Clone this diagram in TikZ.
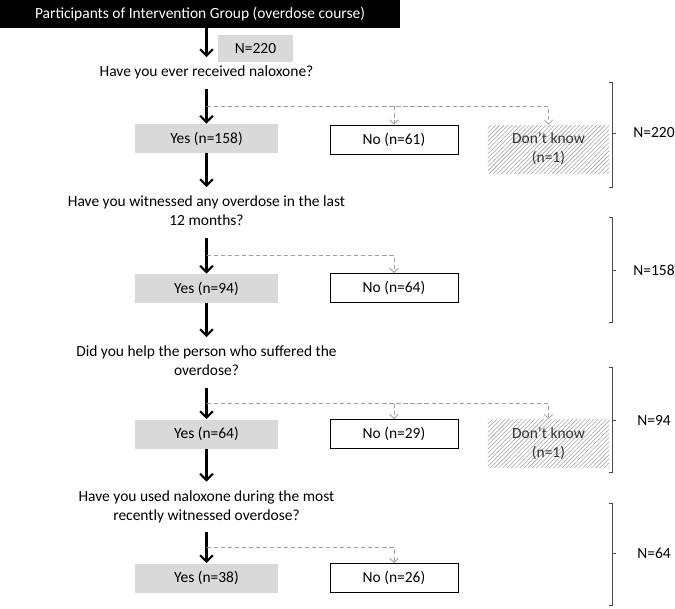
\documentclass[tikz,border=0pt]{standalone}
\usepackage{fontspec}
\setmainfont{Carlito}
\usetikzlibrary{arrows.meta,patterns,calc}
\definecolor{boxgrey}{rgb}{0.85,0.85,0.85}
\definecolor{dashgrey}{rgb}{0.62,0.62,0.62}
\definecolor{bracegrey}{rgb}{0.3,0.3,0.3}

\begin{document}
\begin{tikzpicture}
  [x=0.025cm,y=-0.025cm,font=\fontsize{11}{13.5}\selectfont,
   yesbox/.style={fill=boxgrey,minimum width=3.575cm,minimum height=0.725cm,inner sep=0pt},
   nobox/.style={draw=black,line width=0.6pt,minimum width=3.2cm,minimum height=0.725cm,inner sep=0pt},
   dkbox/.style={pattern=north east lines,pattern color=black!35,minimum width=3.025cm,minimum height=1.2cm,align=center,inner sep=0pt,text=black!80},
   qtext/.style={align=center,inner xsep=0pt,inner ysep=4.3pt},
   main/.style={line width=1.6pt,-{Straight Barb[length=4.5pt,width=9pt]}},
   side/.style={dashgrey,line width=0.6pt,dash pattern=on 3pt off 2pt,-{Straight Barb[length=3pt,width=6pt]}},
   brace/.style={bracegrey,line width=0.6pt}]

  \useasboundingbox (0,0) rectangle (675,608);

  \node[fill=black,text=white,minimum width=10cm,minimum height=0.7cm,inner sep=0pt] (title) at (200,14) {Participants of Intervention Group (overdose course)};
  \node[fill=boxgrey,minimum width=1.875cm,minimum height=0.675cm,inner sep=0pt] (n0) at (255.5,48.5) {N=220};

  \node[qtext] (q1) at (206.5,73) {\strut Have you ever received naloxone?};
  \node[yesbox] (yes1) at (206.5,138.5) {Yes (n=158)};
  \node[nobox] (no1) at (394,139.5) {No (n=61)};
  \node[dkbox] (dk1) at (548.5,149) {Don’t know\\(n=1)};

  \node[qtext] (q2) at (206.5,212.5) {\strut Have you witnessed any overdose in the last\\\strut 12 months?};
  \node[yesbox] (yes2) at (206.5,288.5) {Yes (n=94)};
  \node[nobox] (no2) at (394,288) {No (n=64)};

  \node[qtext] (q3) at (206.5,362.5) {\strut Did you help the person who suffered the\\\strut overdose?};
  \node[yesbox] (yes3) at (206.5,434) {Yes (n=64)};
  \node[nobox] (no3) at (394,434) {No (n=29)};
  \node[dkbox] (dk3) at (548.5,443.5) {Don’t know\\(n=1)};

  \node[qtext] (q4) at (206.5,507) {\strut Have you used naloxone during the most\\\strut recently witnessed overdose?};
  \node[yesbox] (yes4) at (206.5,578) {Yes (n=38)};
  \node[nobox] (no4) at (394,578) {No (n=26)};

  % main path
  \draw[main] (title.south -| q1.north) -- (q1.north);
  \foreach \from/\to in {q1/yes1,yes1/q2,q2/yes2,yes2/q3,q3/yes3,yes3/q4,q4/yes4}
    \draw[main] (\from) -- (\to);

  % side branches
  \coordinate (b1) at ($(q1.south)!0.5!(yes1.north)$);
  \coordinate (b2) at ($(q2.south)!0.5!(yes2.north)$);
  \coordinate (b3) at ($(q3.south)!0.5!(yes3.north)$);
  \coordinate (b4) at ($(q4.south)!0.5!(yes4.north)$);
  \draw[side] (b1) -| (dk1.north);
  \draw[side] (b1 -| no1.north) -- (no1.north);
  \draw[side] (b2) -| (no2.north);
  \draw[side] (b3) -| (dk3.north);
  \draw[side] (b3 -| no3.north) -- (no3.north);
  \draw[side] (b4) -| (no4.north);

  % totals
  \foreach \top/\mid/\bot/\lab in {82/133/187/220,217/270/322/158,367/420/472/94,503/553/605/64}{
    \draw[brace] (609,\top) -- (612,\top) -- (612,\bot) -- (609,\bot);
    \draw[brace] (612,\mid) -- (616,\mid);
    \node (N\lab) at (654,\mid) {N=\lab};
  }
\end{tikzpicture}
\end{document}
